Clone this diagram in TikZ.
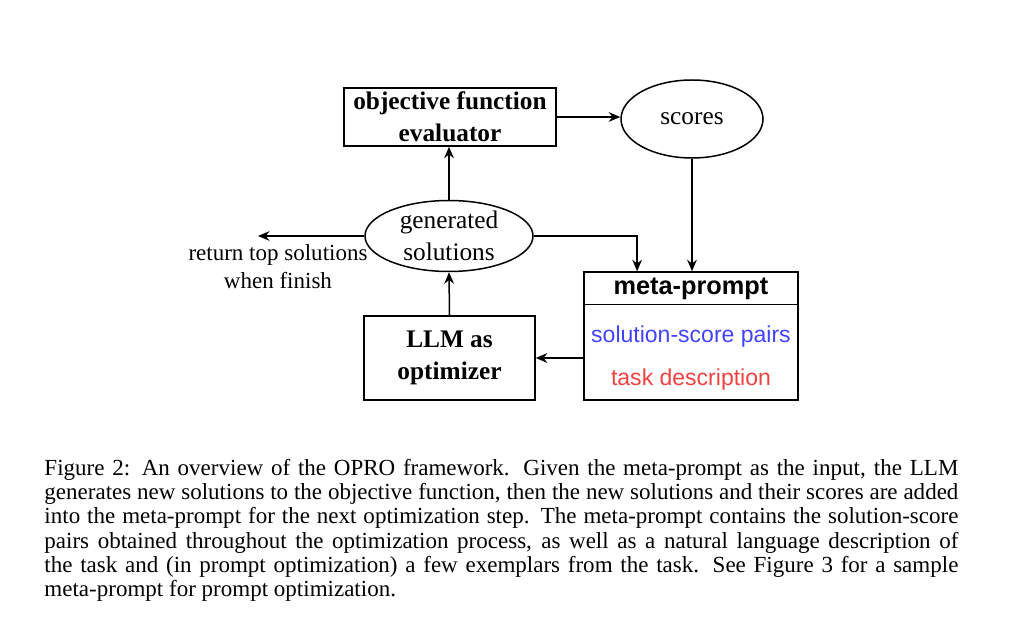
\documentclass[tikz,border=0pt]{standalone}
\usepackage{fontspec}
\setmainfont{Liberation Serif}
\setsansfont{Liberation Sans}
\usetikzlibrary{calc}
\usetikzlibrary{shapes.geometric,arrows.meta,positioning}
\definecolor{pairblue}{RGB}{66,66,255}
\definecolor{taskred}{RGB}{240,66,66}
\newlength\pxu
\setlength\pxu{0.4345pt}

\begin{document}
\begin{tikzpicture}[x=\pxu,y=-\pxu,
    box/.style={draw,line width=0.65pt,inner sep=0pt,align=center,font=\fontsize{11}{13.8}\selectfont\bfseries},
    oval/.style={draw,ellipse,line width=0.65pt,inner sep=0pt,align=center,font=\fontsize{11}{13.8}\selectfont},
    flow/.style={-{Stealth[length=5pt,width=4.2pt]},line width=0.65pt}]
    \useasboundingbox (0,0) rectangle (1024,638);

    \node[box,minimum width=212\pxu,minimum height=58\pxu] (eval) at (450,117) {objective function\\evaluator};
    \node[oval,minimum width=142\pxu,minimum height=78\pxu] (scores) at (692,119) {scores};
    \node[oval,minimum width=168\pxu,minimum height=71\pxu] (gen) at (449,236) {generated\\solutions};
    \node[box,minimum width=171\pxu,minimum height=84\pxu] (llm) at (449.5,358) {LLM as\\optimizer};
    \node[draw,line width=0.65pt,minimum width=214\pxu,minimum height=128\pxu] (meta) at (691,336) {};
    \node[font=\fontsize{11}{13}\selectfont\sffamily\bfseries] (mhead) at (691,289) {meta-prompt};
    \node[font=\fontsize{10}{12}\selectfont\sffamily,text=pairblue] (pairs) at (691,337) {solution-score pairs};
    \node[font=\fontsize{10}{12}\selectfont\sffamily,text=taskred] (task) at (691,380) {task description};
    \draw[line width=0.65pt] ([yshift=-33\pxu]meta.north west) -- ([yshift=-33\pxu]meta.north east);

    \node[align=center,font=\fontsize{10}{12.2}\selectfont] (ret) at (278,267) {return top solutions\\when finish};
    \coordinate (retend) at (258,236);

    % loop
    \draw[flow] (gen.north) -- (gen.north |- eval.south);
    \draw[flow] (eval.east) -- (eval.east -| scores.west);
    \draw[flow] (scores.south) -- (scores.south |- meta.north);
    \draw[flow] (gen.east) -| ($(meta.north west)!0.25!(meta.north east)$);
    \draw[flow] (meta.west |- llm) -- (llm.east);
    \draw[flow] (llm.north) -- (gen.south);
    \draw[flow] (gen.west) -- (retend);

    \node[anchor=north west,inner sep=0pt,text width=397.1pt,align=justify,font=\fontsize{10}{10.5}\selectfont] (cap) at (44,459) {Figure 2: An overview of the OPRO framework. Given the meta-prompt as the input, the LLM\linebreak
    generates new solutions to the objective function, then the new solutions and their scores are added\linebreak
    into the meta-prompt for the next optimization step. The meta-prompt contains the solution-score\linebreak
    pairs obtained throughout the optimization process, as well as a natural language description of\linebreak
    the task and (in prompt optimization) a few exemplars from the task. See Figure 3 for a sample\linebreak
    meta-prompt for prompt optimization.};
\end{tikzpicture}
\end{document}
